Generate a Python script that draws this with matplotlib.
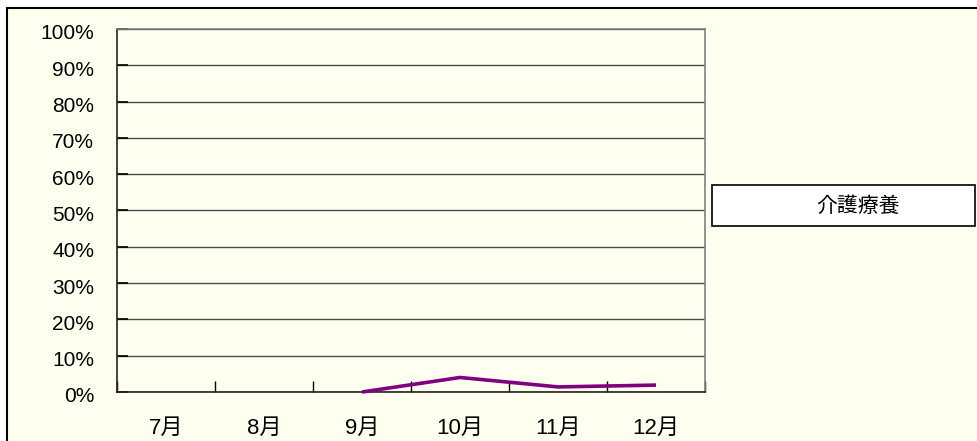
import matplotlib
matplotlib.use("Agg")
import matplotlib.pyplot as plt
import matplotlib.transforms as mtransforms
import numpy as np
from matplotlib.patches import Rectangle
from matplotlib.ticker import FixedLocator, PercentFormatter

categories = ["7月", "8月", "9月", "10月", "11月", "12月"]
series_name = "介護療養"
values = [np.nan, np.nan, 0.0, 0.040, 0.014, 0.019]
y_ticks = [i / 10 for i in range(11)]

fam = ["Liberation Sans", "Noto Sans CJK JP", "DejaVu Sans"]
plt.rcParams["font.family"] = fam

W, H = 978, 441
fig = plt.figure(figsize=(W / 100, H / 100), dpi=100)
fig.patch.set_facecolor("white")
bg = "#FFFFF0"

# figure border / background
fig.add_artist(Rectangle((7 / W, 0 - 0.05), 1.1, (H - 8) / H + 0.05,
                         transform=fig.transFigure, facecolor=bg,
                         edgecolor="black", linewidth=1.5, zorder=0))

ax = fig.add_axes([117 / W, (H - 392) / H, 588 / W, 363 / H])
ax.set_facecolor(bg)
x = np.arange(len(categories))
ax.plot(x, values, color="#800080", linewidth=2.6, solid_capstyle="butt",
        solid_joinstyle="miter", zorder=3, clip_on=False)

ax.set_xlim(-0.5, len(categories) - 0.5)
ax.set_ylim(0, 1)
ax.set_yticks(y_ticks)
ax.yaxis.set_major_formatter(PercentFormatter(1.0, decimals=0))
ax.grid(axis="y", color="#4a4a4a", linewidth=1.0, zorder=1)
ax.set_axisbelow(True)

ax.set_xticks(x)
ax.set_xticklabels(categories)
ax.xaxis.set_minor_locator(FixedLocator(np.arange(-0.5, len(categories), 1.0)))
ax.tick_params(axis="x", which="major", length=0, pad=19, labelsize=16)
ax.tick_params(axis="x", which="minor", direction="in", length=8, width=1, color="black")
ax.tick_params(axis="y", direction="in", length=8, width=1.2, color="black",
               pad=16.5, labelsize=15)

offset = mtransforms.ScaledTranslation(0, -3 / 100, fig.dpi_scale_trans)
for lab in ax.get_yticklabels():
    lab.set_transform(lab.get_transform() + offset)

for s in ["left", "bottom"]:
    ax.spines[s].set_color("#222222")
    ax.spines[s].set_linewidth(1.2)
for s in ["top", "right"]:
    ax.spines[s].set_color("#808080")
    ax.spines[s].set_linewidth(1.2)

# legend box
fig.add_artist(Rectangle((712 / W, (H - 226) / H), 263 / W, 41 / H,
                         transform=fig.transFigure, facecolor="white",
                         edgecolor="black", linewidth=1.2, zorder=5))
fig.text(858 / W, (H - 206) / H, series_name, ha="center", va="center",
         fontsize=15, zorder=6, family=fam)

fig.savefig("out.png", dpi=100, facecolor=fig.get_facecolor())
